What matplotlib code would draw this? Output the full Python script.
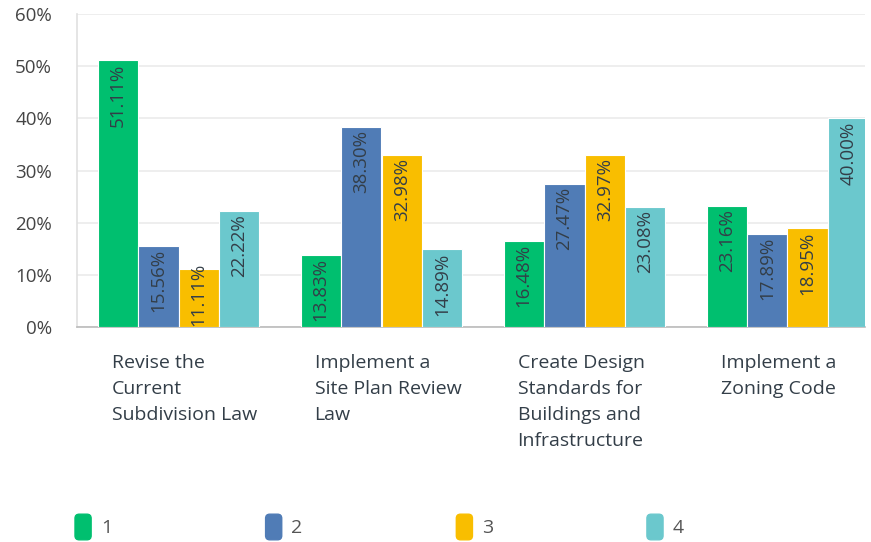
import numpy as np
import matplotlib
matplotlib.use("Agg")
import matplotlib.pyplot as plt
from matplotlib.patches import Patch, FancyBboxPatch
from matplotlib.legend_handler import HandlerPatch

plt.rcParams['font.family'] = ['Open Sans', 'DejaVu Sans']

categories = ["Revise the\nCurrent\nSubdivision Law",
              "Implement a\nSite Plan Review\nLaw",
              "Create Design\nStandards for\nBuildings and\nInfrastructure",
              "Implement a\nZoning Code"]
series_names = ["1", "2", "3", "4"]
values = [
    [51.11, 13.83, 16.48, 23.16],
    [15.56, 38.30, 27.47, 17.89],
    [11.11, 32.98, 32.97, 18.95],
    [22.22, 14.89, 23.08, 40.00],
]
colors = ["#00BF6F", "#507CB6", "#F9BE00", "#6BC8CD"]
yticks = [0, 10, 20, 30, 40, 50, 60]

fig = plt.figure(figsize=(8.71, 5.42), dpi=100)
ax = fig.add_axes([77/871, 1 - 327/542, (865-77)/871, (327-14)/542])

x = np.arange(len(categories))
w = 0.1995
for i, vals in enumerate(values):
    pos = x + (i - 1.5) * w
    ax.bar(pos, vals, width=w, color=colors[i], edgecolor="white", linewidth=0.8, zorder=3)
    for px, v in zip(pos, vals):
        # label sits at the top of the bar, but never runs below the axis
        y = max(v - 0.6, 12.3)
        ax.text(px, y, "%.2f%%" % v, rotation=90, ha="center", va="top",
                fontsize=13.5, color="#333e48", zorder=4)

ax.set_xlim(-0.5, -0.5 + (865-77)/203)
ax.set_ylim(0, 60)
ax.set_yticks(yticks)
ax.set_yticklabels(["%d%%" % t for t in yticks], fontsize=13.5, color="#444444")
ax.tick_params(axis="y", length=0, pad=18)
ax.set_xticks([])
ax.grid(axis="y", color="#ebebeb", linewidth=1.2, zorder=0)
for s in ["top", "right"]:
    ax.spines[s].set_visible(False)
ax.spines["left"].set_color("#e0e0e0")
ax.spines["bottom"].set_color("#bbbbbb")
ax.spines["left"].set_linewidth(1.2)
ax.spines["bottom"].set_linewidth(1.2)

for xi, c in zip(x, categories):
    ax.text(xi - 0.33, -0.085, c, transform=ax.get_xaxis_transform(), ha="left", va="top",
            fontsize=14, color="#333e48", linespacing=1.58)


def rounded(legend, orig_handle, xdescent, ydescent, width, height, fontsize):
    return FancyBboxPatch((-xdescent, -ydescent), width, height,
                          boxstyle="round,pad=0,rounding_size=3")


handles = [Patch(facecolor=c, edgecolor=c) for c in colors]
fig.legend(handles, series_names, loc="center left", bbox_to_anchor=(75/871, 1 - 527/542),
           ncol=4, frameon=False, fontsize=14, handlelength=0.83, handleheight=1.65,
           handletextpad=0.5, columnspacing=7.9, labelcolor="#555555",
           borderpad=0, borderaxespad=0,
           handler_map={Patch: HandlerPatch(patch_func=rounded)})

fig.savefig("out.png", dpi=100)
